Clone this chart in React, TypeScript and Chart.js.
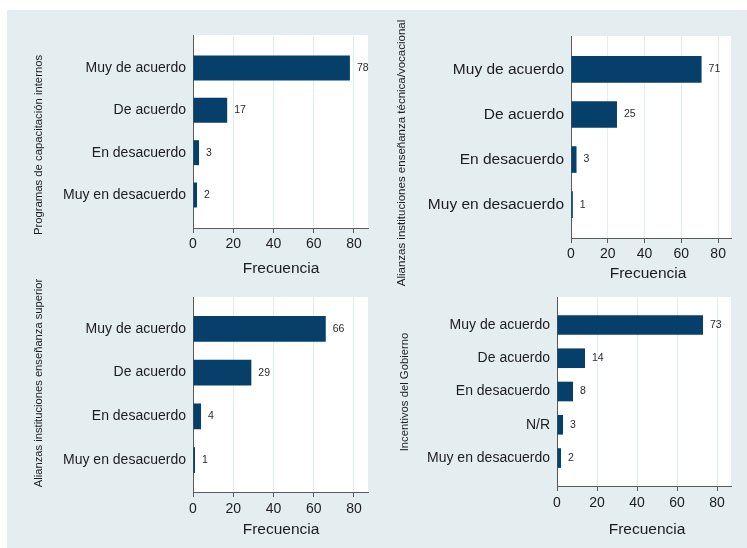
import React, { useEffect, useRef } from "react";
import { Chart, registerables } from "chart.js";

Chart.register(...registerables);

// ---------- DATA ----------
const categoriesFour = ["Muy de acuerdo", "De acuerdo", "En desacuerdo", "Muy en desacuerdo"];
const categoriesFive = ["Muy de acuerdo", "De acuerdo", "En desacuerdo", "N/R", "Muy en desacuerdo"];

const valuesProgramas = [78, 17, 3, 2];
const valuesTecnica = [71, 25, 3, 1];
const valuesSuperior = [66, 29, 4, 1];
const valuesGobierno = [73, 14, 8, 3, 2];

const xTickValues = [0, 20, 40, 60, 80];
const xAxisMax = 87;
const xAxisTitle = "Frecuencia";

const titleProgramas = "Programas de capacitación internos";
const titleTecnica = "Alianzas instituciones enseñanza técnica/vocacional";
const titleSuperior = "Alianzas instituciones enseñanza superior";
const titleGobierno = "Incentivos del Gobierno";

// ---------- STYLE ----------
const FONT = "'Liberation Sans', Arial, Helvetica, sans-serif";
const BAR_COLOR = "#063f6a";
const TEXT = "#1c1c22";
const AXIS = "#5a5a5a";
const GRID = "#e3ecef";
const PAGE_BG = "#e4edf0";

type Rect = { x: number; y: number; w: number; h: number };
type Area = { l: number; t: number; r: number; b: number };
type PanelCfg = {
  categories: string[];
  values: number[];
  yTitle: string;
  rect: Rect;
  area: Area;
  edge: number;
  catFont: number;
  tickFont: number;
  tickPad: number;
  yTitleFont: number;
  yTitlePos: [number, number];
  xTitlePos: [number, number];
};

const panels: PanelCfg[] = [
  {
    categories: categoriesFour,
    values: valuesProgramas,
    yTitle: titleProgramas,
    rect: { x: 0, y: 0, w: 374, h: 282 },
    area: { l: 193, t: 35, r: 368, b: 228 },
    edge: 0.78,
    catFont: 14,
    tickFont: 14,
    tickPad: 3,
    yTitleFont: 11.3,
    yTitlePos: [39, 145],
    xTitlePos: [281, 269],
  },
  {
    categories: categoriesFour,
    values: valuesTecnica,
    yTitle: titleTecnica,
    rect: { x: 374, y: 0, w: 373, h: 294 },
    area: { l: 571, t: 36, r: 731, b: 238 },
    edge: 0.74,
    catFont: 15.5,
    tickFont: 14,
    tickPad: 3,
    yTitleFont: 11.5,
    yTitlePos: [402, 153],
    xTitlePos: [648, 274],
  },
  {
    categories: categoriesFour,
    values: valuesSuperior,
    yTitle: titleSuperior,
    rect: { x: 0, y: 274, w: 374, h: 274 },
    area: { l: 193, t: 297, r: 368, b: 492 },
    edge: 0.73,
    catFont: 14,
    tickFont: 14,
    tickPad: 4,
    yTitleFont: 11.2,
    yTitlePos: [39, 383],
    xTitlePos: [281, 530],
  },
  {
    categories: categoriesFive,
    values: valuesGobierno,
    yTitle: titleGobierno,
    rect: { x: 374, y: 286, w: 373, h: 262 },
    area: { l: 557, t: 297, r: 731, b: 486 },
    edge: 0.84,
    catFont: 14,
    tickFont: 14,
    tickPad: 4,
    yTitleFont: 11.3,
    yTitlePos: [405, 392],
    xTitlePos: [647, 530],
  },
];

function Panel({ cfg }: { cfg: PanelCfg }) {
  const ref = useRef<HTMLCanvasElement>(null);

  useEffect(() => {
    const { rect, area } = cfg;
    const n = cfg.categories.length;

    const plotBg = {
      id: "plotBg",
      beforeDraw(chart: any) {
        const { ctx, chartArea: a } = chart;
        ctx.save();
        ctx.fillStyle = "#ffffff";
        ctx.fillRect(a.left, a.top, a.right - a.left, a.bottom - a.top);
        ctx.restore();
      },
    };

    const valueLabels = {
      id: "valueLabels",
      afterDatasetsDraw(chart: any) {
        const { ctx } = chart;
        const meta = chart.getDatasetMeta(0);
        ctx.save();
        ctx.font = `10.5px ${FONT}`;
        ctx.fillStyle = "#2a2a30";
        ctx.textAlign = "left";
        ctx.textBaseline = "middle";
        meta.data.forEach((el: any, i: number) => {
          const raw: any = chart.data.datasets[0].data[i];
          ctx.fillText(String(raw.x), el.x + 7, el.y);
        });
        ctx.restore();
      },
    };

    const axisTitles = {
      id: "axisTitles",
      afterDraw(chart: any) {
        const { ctx } = chart;
        ctx.save();
        ctx.fillStyle = TEXT;
        ctx.textAlign = "center";
        ctx.textBaseline = "middle";
        ctx.font = `${cfg.yTitleFont}px ${FONT}`;
        ctx.translate(cfg.yTitlePos[0] - rect.x, cfg.yTitlePos[1] - rect.y);
        ctx.rotate(-Math.PI / 2);
        ctx.fillText(cfg.yTitle, 0, 0);
        ctx.restore();
        ctx.save();
        ctx.fillStyle = TEXT;
        ctx.textAlign = "center";
        ctx.textBaseline = "middle";
        ctx.font = `15.5px ${FONT}`;
        ctx.fillText(xAxisTitle, cfg.xTitlePos[0] - rect.x, cfg.xTitlePos[1] - rect.y);
        ctx.restore();
      },
    };

    const chart = new Chart(ref.current as HTMLCanvasElement, {
      type: "bar",
      data: {
        datasets: [
          {
            data: cfg.values.map((v, i) => ({ x: v, y: i + 1 })),
            backgroundColor: BAR_COLOR,
            borderWidth: 0,
            categoryPercentage: 1,
            barPercentage: 0.59,
          } as any,
        ],
      },
      options: {
        indexAxis: "y",
        responsive: false,
        maintainAspectRatio: false,
        animation: false,
        devicePixelRatio: 1,
        layout: {
          padding: {
            left: 0,
            top: area.t - rect.y,
            right: rect.x + rect.w - area.r,
            bottom: 0,
          },
        },
        plugins: {
          legend: { display: false },
          tooltip: { enabled: false },
          title: { display: false },
        },
        scales: {
          y: {
            type: "linear",
            reverse: true,
            offset: false,
            min: 1 - cfg.edge,
            max: n + cfg.edge,
            afterBuildTicks: (s: any) => {
              s.ticks = cfg.categories.map((_, i) => ({ value: i + 1 }));
            },
            afterFit: (s: any) => {
              s.width = area.l - rect.x;
              s.paddingTop = 0;
              s.paddingBottom = 0;
            },
            ticks: {
              autoSkip: false,
              padding: 7,
              color: TEXT,
              font: { family: FONT, size: cfg.catFont },
              callback: (v: any) => cfg.categories[Math.round(Number(v)) - 1] ?? "",
            },
            grid: { display: false, drawTicks: false, offset: false },
            border: { display: true, color: AXIS, width: 1 },
          },
          x: {
            type: "linear",
            min: 0,
            max: xAxisMax,
            offset: false,
            afterBuildTicks: (s: any) => {
              s.ticks = xTickValues.map((v) => ({ value: v }));
            },
            afterFit: (s: any) => {
              s.height = rect.y + rect.h - area.b;
              s.paddingLeft = 0;
              s.paddingRight = 0;
            },
            ticks: {
              autoSkip: false,
              maxRotation: 0,
              padding: cfg.tickPad,
              color: TEXT,
              font: { family: FONT, size: cfg.tickFont },
            },
            grid: {
              display: true,
              color: GRID,
              lineWidth: 1,
              drawTicks: true,
              tickLength: 5,
              tickColor: AXIS,
              tickWidth: 1,
            },
            border: { display: true, color: AXIS, width: 1 },
          },
        } as any,
      },
      plugins: [plotBg, valueLabels, axisTitles],
    });
    return () => chart.destroy();
  }, [cfg]);

  return (
    <canvas
      ref={ref}
      width={cfg.rect.w}
      height={cfg.rect.h}
      style={{
        position: "absolute",
        left: cfg.rect.x,
        top: cfg.rect.y,
        width: cfg.rect.w,
        height: cfg.rect.h,
      }}
    />
  );
}

export default function App() {
  return (
    <div
      style={{
        position: "fixed",
        left: 0,
        top: 0,
        width: 747,
        height: 548,
        background: "#ffffff",
        overflow: "hidden",
      }}
    >
      <div
        style={{
          position: "absolute",
          left: 7,
          top: 10,
          width: 740,
          height: 538,
          background: PAGE_BG,
        }}
      />
      {panels.map((p, i) => (
        <Panel key={i} cfg={p} />
      ))}
    </div>
  );
}
